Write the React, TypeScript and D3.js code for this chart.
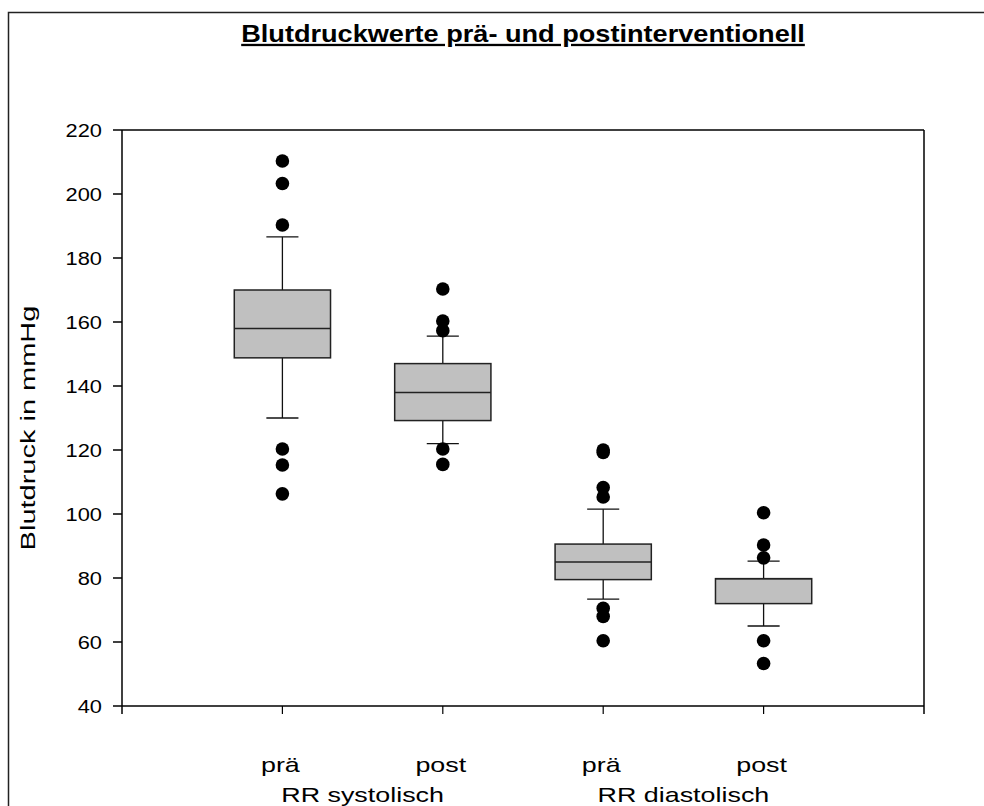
import * as d3 from 'd3';

// Blutdruck box plot (SigmaPlot style)
const groups = ['RR systolisch', 'RR diastolisch'];
const categories = ['prä', 'post', 'prä', 'post'];
const q1 = [148.8, 129.2, 79.5, 72];
const medians = [158, 138, 85, 79.8];
const q3 = [170, 147, 90.6, 79.8];
const whiskerLow = [130, 122, 73.4, 65];
const whiskerHigh = [186.6, 155.6, 101.5, 85.3];
const outliers = [
  [210.3, 203.3, 190.3, 120.3, 115.3, 106.3],
  [170.3, 160.3, 157.3, 120.3, 115.5],
  [120, 119.2, 108.3, 105.3, 70.5, 68, 60.4],
  [100.4, 90.3, 86.3, 60.4, 53.3],
];
const yTicks = [40, 60, 80, 100, 120, 140, 160, 180, 200, 220];

const W = 984;
const H = 806;
const margin = { top: 130, left: 122, right: 60, bottom: 100 };
const font = 'Arial, "Liberation Sans", sans-serif';

export default function App() {
  const x = d3.scaleLinear().domain([0, 5]).range([margin.left, W - margin.right]);
  const y = d3.scaleLinear().domain([40, 220]).range([H - margin.bottom, margin.top]);
  const boxW = x(0.6) - x(0);
  const capW = x(0.2) - x(0);
  const x0 = x.range()[0];
  const x1 = x.range()[1];
  const y0 = y.range()[0];
  const y1 = y.range()[1];

  return (
    <svg width={W} height={H} style={{ position: 'absolute', left: 0, top: 0, background: '#fff' }}>
      <rect x={8.5} y={12.5} width={1100} height={1000} fill="none" stroke="#222" strokeWidth={1.5} />

      <text
        transform={`translate(${(x0 + x1) / 2},42) scale(1.18,1)`}
        textAnchor="middle"
        fontFamily={font}
        fontWeight="bold"
        fontSize={23}
        textDecoration="underline"
        fill="#000"
      >
        Blutdruckwerte prä- und postinterventionell
      </text>

      {/* frame of the plot */}
      <line x1={x0} x2={x1} y1={y1} y2={y1} stroke="#000" strokeWidth={1.5} />
      <line x1={x1} x2={x1} y1={y1} y2={y0 + 8} stroke="#000" strokeWidth={1.5} />
      <line x1={x0} x2={x1} y1={y0} y2={y0} stroke="#000" strokeWidth={1.5} />
      <line x1={x0} x2={x0} y1={y1} y2={y0 + 8} stroke="#000" strokeWidth={1.5} />

      {yTicks.map(t => (
        <g key={t}>
          <line x1={x0 - 9} x2={x0} y1={y(t)} y2={y(t)} stroke="#000" strokeWidth={1.5} />
          <text
            transform={`translate(${x0 - 20},${y(t) + 6.5}) scale(1.18,1)`}
            textAnchor="end"
            fontFamily={font}
            fontSize={18.5}
            fill="#000"
          >
            {t}
          </text>
        </g>
      ))}

      {categories.map((c, i) => (
        <g key={'c' + i}>
          <line x1={x(i + 1)} x2={x(i + 1)} y1={y0} y2={y0 + 8} stroke="#000" strokeWidth={1.2} />
          <text
            transform={`translate(${x(i + 1) - 2},${y0 + 66}) scale(1.28,1)`}
            textAnchor="middle"
            fontFamily={font}
            fontSize={21}
            fill="#000"
          >
            {c}
          </text>
        </g>
      ))}

      {groups.map((g, i) => (
        <text
          key={g}
          transform={`translate(${(x(2 * i + 1) + x(2 * i + 2)) / 2},${y0 + 96}) scale(1.28,1)`}
          textAnchor="middle"
          fontFamily={font}
          fontSize={21}
          fill="#000"
        >
          {g}
        </text>
      ))}

      <text
        transform={`translate(35,428) rotate(-90) scale(1.45,1)`}
        textAnchor="middle"
        fontFamily={font}
        fontSize={20}
        fill="#000"
      >
        Blutdruck in mmHg
      </text>

      {categories.map((c, i) => {
        const cx = x(i + 1);
        return (
          <g key={'b' + i}>
            <line x1={cx} x2={cx} y1={y(whiskerHigh[i])} y2={y(q3[i])} stroke="#111" strokeWidth={1.3} />
            <line x1={cx} x2={cx} y1={y(q1[i])} y2={y(whiskerLow[i])} stroke="#111" strokeWidth={1.3} />
            <line x1={cx - capW / 2} x2={cx + capW / 2} y1={y(whiskerHigh[i])} y2={y(whiskerHigh[i])} stroke="#111" strokeWidth={1.3} />
            <line x1={cx - capW / 2} x2={cx + capW / 2} y1={y(whiskerLow[i])} y2={y(whiskerLow[i])} stroke="#111" strokeWidth={1.3} />
            <rect
              x={cx - boxW / 2}
              y={y(q3[i])}
              width={boxW}
              height={y(q1[i]) - y(q3[i])}
              fill="#c0c0c0"
              stroke="#222"
              strokeWidth={1.5}
            />
            <line x1={cx - boxW / 2} x2={cx + boxW / 2} y1={y(medians[i])} y2={y(medians[i])} stroke="#222" strokeWidth={1.5} />
            {outliers[i].map((v, j) => (
              <circle key={j} cx={cx} cy={y(v)} r={6.8} fill="#000" />
            ))}
          </g>
        );
      })}
    </svg>
  );
}
